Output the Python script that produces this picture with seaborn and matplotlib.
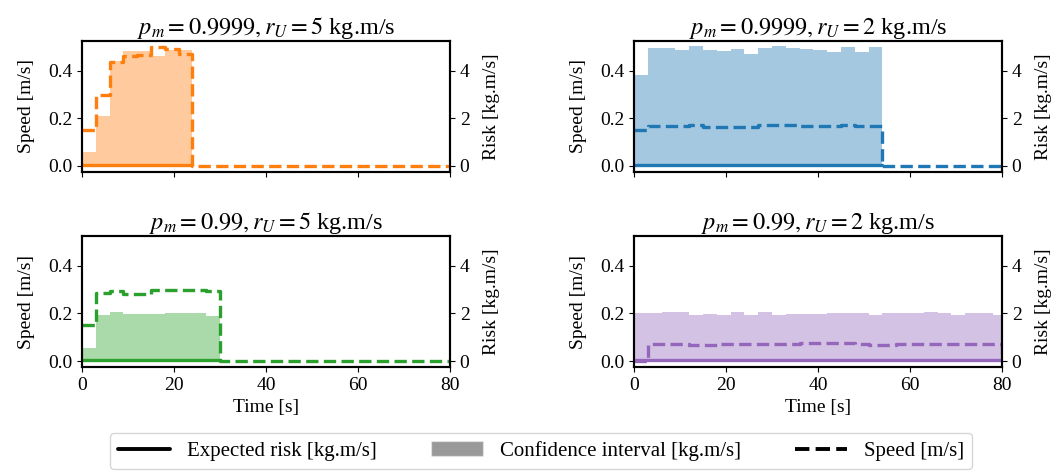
import numpy as np
import matplotlib
matplotlib.use('Agg')
import matplotlib.pyplot as plt
import seaborn as sns
from matplotlib.lines import Line2D
from matplotlib.patches import Patch

# Step length of the planner [s] and end of the time axis
STEP = 3
T_END = 80

# Panel titles and colours
titles = [r'$p_m = 0.9999, r_U = 5$ kg.m/s', r'$p_m = 0.9999, r_U = 2$ kg.m/s',
          r'$p_m = 0.99, r_U = 5$ kg.m/s', r'$p_m = 0.99, r_U = 2$ kg.m/s']
colors = ['tab:orange', 'tab:blue', 'tab:green', 'tab:purple']

# Speed [m/s] per 3 s step (until the robot stops)
speed_a = [0.15, 0.30, 0.435, 0.46, 0.465, 0.50, 0.49, 0.47]
speed_b = [0.15, 0.169, 0.169, 0.169, 0.174, 0.164, 0.164, 0.164, 0.165, 0.172,
           0.173, 0.172, 0.168, 0.167, 0.167, 0.172, 0.169, 0.169]
speed_c = [0.15, 0.285, 0.295, 0.28, 0.28, 0.30, 0.30, 0.30, 0.30, 0.295]
speed_d = [0.0, 0.073, 0.073, 0.073, 0.068, 0.068, 0.070, 0.070, 0.070, 0.070,
           0.070, 0.072, 0.074, 0.074, 0.074, 0.074, 0.072, 0.068, 0.068, 0.070,
           0.072, 0.072, 0.072, 0.072, 0.072, 0.072, 0.072]

# Upper bound of the confidence interval on risk [kg.m/s]
ci_a = [0.58, 2.12, 4.4, 4.85, 4.85, 4.6, 4.88, 4.88]
ci_b = [3.82, 4.97, 4.97, 4.89, 5.03, 4.86, 4.83, 4.93, 4.72, 4.96,
        5.03, 4.97, 4.9, 4.89, 4.79, 5.0, 4.8, 5.0]
ci_c = [0.56, 1.95, 2.05, 1.98, 1.98, 1.98, 2.0, 2.03, 2.02, 1.9]
ci_d = [2.0, 2.0, 2.05, 2.05, 1.93, 1.99, 1.92, 2.05, 1.92, 2.05,
        1.93, 1.99, 1.97, 1.99, 2.0, 2.01, 2.0, 1.93, 2.0, 2.03,
        2.02, 2.05, 2.0, 1.95, 2.0, 2.03, 1.93]

# Expected risk [kg.m/s]
exp_risk = [0.05, 0.05, 0.05, 0.06]

speeds = [speed_a, speed_b, speed_c, speed_d]
cis = [ci_a, ci_b, ci_c, ci_d]

sns.set_style('ticks', {'axes.edgecolor': 'black', 'xtick.color': 'black',
                        'ytick.color': 'black', 'text.color': 'black',
                        'axes.labelcolor': 'black'})
plt.rcParams['font.family'] = ['Liberation Serif', 'DejaVu Serif']
plt.rcParams['mathtext.fontset'] = 'stix'
plt.rcParams['font.size'] = 14
plt.rcParams['axes.linewidth'] = 1.5

fig, axes = plt.subplots(2, 2, figsize=(10.63, 4.72), dpi=100, sharex=True)
fig.subplots_adjust(left=82 / 1063, right=1002 / 1063, top=1 - 41 / 472,
                    bottom=1 - 367 / 472, wspace=0.5, hspace=0.49)

for i, ax in enumerate(axes.flat):
    col = colors[i]
    n = len(speeds[i])
    t_stop = min(n * STEP, T_END)
    t = list(np.arange(n) * STEP) + [t_stop]

    ax2 = ax.twinx()
    # confidence interval (risk axis)
    ax2.fill_between(t, 0, cis[i] + [cis[i][-1]], step='post', color=col,
                     alpha=0.4, lw=0)
    # expected risk
    sns.lineplot(x=[0, t_stop], y=[exp_risk[i]] * 2, ax=ax2, color=col, lw=2.4,
                 drawstyle='steps-post', estimator=None)

    # speed: keep going at 0 after stopping
    ts = list(t)
    vs = speeds[i] + [0.0]
    if t_stop < T_END:
        ts.append(T_END)
        vs.append(0.0)
    sns.lineplot(x=ts, y=vs, ax=ax, color=col, lw=2.4, linestyle='--',
                 drawstyle='steps-post', estimator=None)

    ax.set_zorder(ax2.get_zorder() + 1)
    ax.patch.set_visible(False)

    ax.set_xlim(0, T_END)
    ax.set_ylim(-0.025, 0.525)
    ax2.set_ylim(-0.25, 5.25)
    ax.set_xticks([0, 20, 40, 60, 80])
    ax.set_yticks([0.0, 0.2, 0.4])
    ax.set_yticklabels(['0.0', '0.2', '0.4'])
    ax2.set_yticks([0, 2, 4])
    ax.set_ylabel('Speed [m/s]', labelpad=9)
    ax2.set_ylabel('Risk [kg.m/s]', labelpad=10)
    ax.set_title(titles[i], fontsize=17.5, pad=5)
    if i >= 2:
        ax.set_xlabel('Time [s]')
    else:
        ax.set_xlabel('')

handles = [Line2D([], [], color='black', lw=2.8),
           Patch(facecolor='black', alpha=0.4),
           Line2D([], [], color='black', lw=2.8, linestyle='--')]
labels = ['Expected risk [kg.m/s]', 'Confidence interval [kg.m/s]', 'Speed [m/s]']
fig.legend(handles, labels, loc='lower center', bbox_to_anchor=(0.509, -0.016),
           ncol=3, fontsize=15, handlelength=2.5, columnspacing=2.6)

fig.savefig('out.png', dpi=100)
